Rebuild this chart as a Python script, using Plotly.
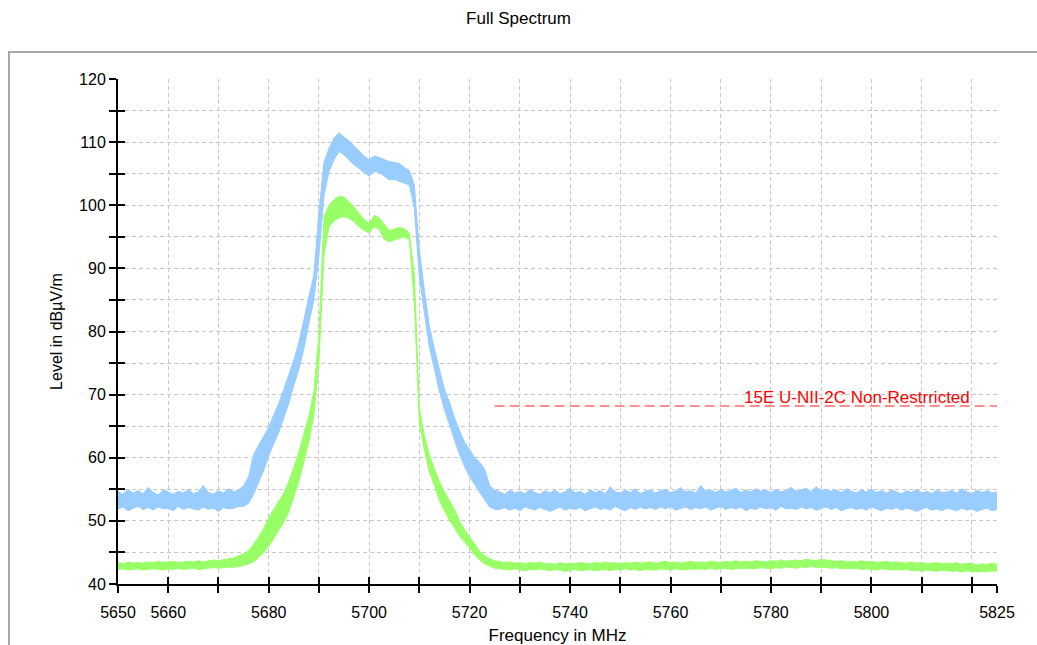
import plotly.graph_objects as go

# Frequency grid in MHz
freq = list(range(5650, 5826))

# Peak trace (light blue): upper / lower envelope of the sweep, dBµV/m
peak_hi = (
    [54.6, 54.2, 55.0, 54.4, 54.8, 54.3, 55.3, 54.5, 54.1, 54.9, 54.6, 54.2, 54.7,
     54.4, 55.0, 54.3, 54.6, 55.6, 54.5, 54.2, 54.8, 54.4, 55.1, 54.6, 54.9]
    + [55.6, 57.0, 60.5, 62.0, 63.5, 64.8, 66.8, 68.6, 70.8, 73.0, 75.5, 78.2, 82.0, 85.5, 89.0,
       99.0, 106.8, 109.0, 110.6, 111.5, 110.8, 110.2, 109.4, 108.6, 107.8, 107.2, 107.8, 107.6,
       107.3, 106.9, 106.8, 106.6, 106.0, 105.5, 103.2,
       93.0, 86.5, 80.8, 77.2, 74.0, 70.8, 68.8, 66.3, 64.3, 62.5, 61.3, 60.0, 59.3, 58.2, 55.6, 54.9]
    + [54.6, 54.2, 54.9, 54.4, 54.7, 54.3, 55.0, 54.5, 54.2, 54.8,
       54.4, 54.9, 54.3, 54.6, 55.2, 54.4, 54.7, 54.2, 54.9, 54.5,
       54.8, 54.3, 55.4, 54.6, 54.4, 54.9, 54.5, 55.1, 54.3, 54.7,
       54.9, 54.4, 54.8, 55.0, 54.5, 54.7, 55.3, 54.6, 54.8, 54.4,
       55.6, 54.7, 54.9, 54.5, 55.0, 54.6, 54.8, 55.2, 54.5, 54.9,
       54.6, 55.1, 54.7, 54.9, 54.5, 55.0, 54.6, 54.8, 55.3, 54.7,
       54.9, 55.2, 54.6, 55.4, 54.8, 55.0, 54.7, 54.9, 54.5, 55.1,
       54.7, 54.4, 54.9, 54.6, 55.0, 54.5, 54.8, 54.4, 54.9, 54.6,
       54.3, 54.8, 54.5, 55.0, 54.4, 54.7, 54.3, 54.9, 54.5, 54.6,
       54.8, 54.4, 55.1, 54.6, 54.3, 54.9, 54.5, 54.8, 54.4, 54.6]
)
peak_lo = (
    [51.9, 52.2, 51.6, 52.0, 52.3, 51.8, 52.1, 51.7, 52.2, 51.9, 52.0, 51.6, 52.3,
     51.8, 52.1, 51.9, 51.7, 52.2, 51.8, 52.0, 51.5, 52.1, 51.9, 52.0, 52.3]
    + [52.3, 52.8, 54.2, 56.0, 58.0, 60.3, 62.2, 64.0, 66.3, 68.6, 71.5, 74.0, 77.2, 81.3, 85.0,
       92.0, 101.5, 105.3, 107.2, 108.5, 108.0, 107.2, 106.4, 105.8, 105.2, 104.6, 105.4, 105.2,
       104.6, 104.0, 104.1, 103.8, 103.5, 103.2, 99.5,
       88.5, 83.0, 77.5, 74.0, 70.5, 67.6, 65.2, 62.8, 60.5, 58.6, 57.0, 55.8, 54.5, 53.3, 52.2, 51.8]
    + [51.8, 52.1, 51.7, 52.0, 51.6, 52.2, 51.9, 51.7, 52.1, 51.8,
       51.5, 51.9, 52.2, 51.7, 52.0, 51.8, 52.1, 51.6, 51.9, 52.2,
       51.8, 52.0, 51.7, 52.3, 51.9, 51.6, 52.1, 51.8, 52.2, 51.9,
       52.1, 51.8, 52.2, 51.9, 52.3, 51.7, 52.0, 52.2, 51.8, 52.1,
       51.9, 52.2, 51.7, 52.0, 52.3, 51.8, 52.1, 51.9, 52.2, 51.6,
       52.0, 51.8, 52.2, 51.9, 52.1, 51.7, 52.3, 51.9, 52.0, 51.8,
       52.2, 51.9, 52.1, 51.7, 52.0, 52.2, 51.8, 52.1, 51.6, 51.9,
       52.1, 51.8, 52.0, 51.7, 52.2, 51.9, 51.6, 52.0, 51.8, 52.1,
       51.7, 52.0, 51.8, 51.5, 51.9, 52.1, 51.7, 51.9, 51.6, 52.0,
       51.8, 51.6, 52.0, 51.7, 51.9, 51.5, 51.8, 52.0, 51.6, 51.8]
)

# Average trace (light green): upper / lower envelope, dBµV/m
avg_hi = (
    [43.4, 43.2, 43.5, 43.3, 43.4, 43.3, 43.5, 43.4, 43.6, 43.4, 43.5, 43.6, 43.4,
     43.5, 43.6, 43.5, 43.7, 43.5, 43.6, 43.8, 43.7, 43.9, 44.0, 44.1, 44.4]
    + [44.8, 45.3, 46.3, 47.5, 48.8, 50.5, 51.8, 53.0, 54.4, 56.2, 58.5, 60.8, 63.8, 66.6, 70.5,
       79.5, 98.2, 100.0, 100.9, 101.4, 101.3, 100.5, 99.8, 98.7, 97.8, 97.1, 98.4, 98.0,
       96.9, 96.0, 96.2, 96.5, 96.3, 95.6, 89.0,
       68.0, 63.5, 60.4, 58.2, 56.2, 54.6, 53.3, 51.8, 50.0, 48.6, 47.5, 46.3, 45.2, 44.5, 44.0, 43.7]
    + [43.6, 43.4, 43.5, 43.3, 43.4, 43.2, 43.4, 43.3, 43.5, 43.2,
       43.3, 43.1, 43.4, 43.2, 43.3, 43.2, 43.4, 43.3, 43.2, 43.4,
       43.3, 43.5, 43.3, 43.4, 43.2, 43.4, 43.3, 43.5, 43.3, 43.4,
       43.5, 43.3, 43.4, 43.6, 43.4, 43.5, 43.3, 43.4, 43.6, 43.4,
       43.5, 43.4, 43.6, 43.5, 43.4, 43.6, 43.5, 43.7, 43.5, 43.6,
       43.5, 43.7, 43.6, 43.5, 43.7, 43.6, 43.8, 43.6, 43.7, 43.8,
       43.7, 43.9, 43.8, 43.7, 43.9, 43.8, 43.7, 43.6, 43.7, 43.5,
       43.6, 43.5, 43.7, 43.5, 43.6, 43.4, 43.5, 43.6, 43.4, 43.5,
       43.4, 43.3, 43.5, 43.3, 43.4, 43.2, 43.3, 43.4, 43.2, 43.3,
       43.2, 43.4, 43.1, 43.3, 43.2, 43.0, 43.2, 43.1, 43.3, 43.1]
)
avg_lo = (
    [42.3, 42.4, 42.2, 42.3, 42.4, 42.2, 42.3, 42.4, 42.3, 42.2, 42.4, 42.3, 42.5,
     42.3, 42.4, 42.5, 42.3, 42.4, 42.5, 42.6, 42.5, 42.6, 42.7, 42.6, 42.8]
    + [42.9, 43.2, 43.5, 44.2, 45.0, 46.0, 47.2, 48.4, 49.8, 51.4, 53.8, 56.2, 59.5, 62.5, 66.8,
       75.0, 92.0, 96.6, 97.5, 98.0, 98.2, 97.9, 97.4, 96.6, 96.0, 95.6, 96.6, 96.2,
       94.6, 94.2, 94.5, 94.8, 95.0, 94.6, 84.5,
       65.5, 61.2, 57.8, 55.6, 53.2, 51.6, 50.1, 48.9, 47.6, 46.6, 45.7, 44.6, 43.8, 43.2, 42.8, 42.5]
    + [42.4, 42.3, 42.2, 42.4, 42.3, 42.1, 42.3, 42.2, 42.4, 42.2,
       42.1, 42.3, 42.2, 42.0, 42.2, 42.3, 42.1, 42.2, 42.3, 42.1,
       42.2, 42.3, 42.1, 42.3, 42.2, 42.4, 42.2, 42.3, 42.1, 42.3,
       42.3, 42.2, 42.4, 42.3, 42.2, 42.4, 42.3, 42.2, 42.4, 42.3,
       42.4, 42.3, 42.5, 42.3, 42.4, 42.5, 42.3, 42.4, 42.5, 42.4,
       42.5, 42.4, 42.6, 42.5, 42.4, 42.6, 42.5, 42.7, 42.6, 42.5,
       42.7, 42.6, 42.8, 42.6, 42.7, 42.6, 42.5, 42.6, 42.4, 42.5,
       42.4, 42.5, 42.3, 42.4, 42.3, 42.2, 42.4, 42.3, 42.2, 42.3,
       42.2, 42.3, 42.1, 42.2, 42.0, 42.2, 42.1, 42.0, 42.2, 42.1,
       42.0, 42.1, 41.9, 42.1, 42.0, 41.9, 42.0, 41.9, 42.1, 42.0]
)

# Limit line
limit_x = [5725, 5825]
limit_level = 68.2
limit_label = "15E U-NII-2C Non-Restrricted"

# Axis ticks
x_tickvals = [5650, 5660, 5670, 5680, 5690, 5700, 5710, 5720, 5730, 5740, 5750,
              5760, 5770, 5780, 5790, 5800, 5810, 5820, 5825]
x_ticktext = ["5650", "5660", "", "5680", "", "5700", "", "5720", "", "5740", "",
              "5760", "", "5780", "", "5800", "", "", "5825"]
y_tickvals = [40, 45, 50, 55, 60, 65, 70, 75, 80, 85, 90, 95, 100, 105, 110, 115, 120]
y_ticktext = ["40", "", "50", "", "60", "", "70", "", "80", "", "90", "", "100", "",
              "110", "", "120"]

FONT = "Arial, 'Liberation Sans', sans-serif"
BLUE = "#99ccff"
GREEN = "#99ff66"

fig = go.Figure()


def band(hi, lo, color, name):
    return go.Scatter(
        x=freq + freq[::-1],
        y=hi + lo[::-1],
        mode="lines",
        fill="toself",
        fillcolor=color,
        line=dict(color=color, width=1),
        name=name,
        showlegend=False,
        hoverinfo="skip",
    )


fig.add_trace(band(peak_hi, peak_lo, BLUE, "Peak"))
fig.add_trace(band(avg_hi, avg_lo, GREEN, "Average"))

fig.add_trace(go.Scatter(
    x=limit_x, y=[limit_level, limit_level], mode="lines",
    line=dict(color="#ff2020", width=1, dash="10px,5px"),
    showlegend=False, hoverinfo="skip",
))

# second pair of axes gives the inward half of the crossing tick marks
fig.add_trace(go.Scatter(x=[None], y=[None], xaxis="x2", yaxis="y2",
                         showlegend=False, hoverinfo="skip"))

fig.add_annotation(
    x=5820, y=limit_level, xref="x", yref="y",
    text=limit_label, showarrow=False,
    xanchor="right", yanchor="bottom", yshift=-3,
    font=dict(family=FONT, size=17, color="#ff0000"),
)

axis_common = dict(showline=True, linecolor="black", linewidth=2,
                   ticks="outside", ticklen=7, tickwidth=2, tickcolor="black",
                   zeroline=False, showgrid=True, gridcolor="#c8c8c8",
                   gridwidth=1, griddash="4px,3px", automargin=False,
                   tickfont=dict(family=FONT, size=16, color="black"))

fig.update_layout(
    width=1037, height=645,
    margin=dict(l=118, r=40, t=79, b=61),
    paper_bgcolor="white", plot_bgcolor="white",
    title=dict(text="Full Spectrum", x=0.5, xanchor="center",
               y=1 - 18 / 645, yanchor="middle",
               font=dict(family=FONT, size=17, color="black")),
    xaxis=dict(range=[5650, 5825], tickmode="array", tickvals=x_tickvals,
               ticktext=x_ticktext, ticklabelstandoff=6,
               title=dict(text="Frequency in MHz", standoff=12,
                          font=dict(family=FONT, size=17, color="black")),
               **axis_common),
    yaxis=dict(range=[40, 120], tickmode="array", tickvals=y_tickvals,
               ticktext=y_ticktext,
               title=dict(text="Level in dBµV/m", standoff=12,
                          font=dict(family=FONT, size=16, color="black")),
               **axis_common),
    xaxis2=dict(range=[5650, 5825], overlaying="x", anchor="y2", side="bottom",
                tickmode="array", tickvals=x_tickvals, showticklabels=False,
                ticks="inside", ticklen=7, tickwidth=2, tickcolor="black",
                showgrid=False, zeroline=False, showline=False),
    yaxis2=dict(range=[40, 120], overlaying="y", anchor="x2", side="left",
                tickmode="array", tickvals=y_tickvals, showticklabels=False,
                ticks="inside", ticklen=7, tickwidth=2, tickcolor="black",
                showgrid=False, zeroline=False, showline=False),
    shapes=[dict(type="rect", xref="paper", yref="paper",
                 x0=(9 - 118) / 879, x1=1.2, y0=-0.3, y1=(584 - 52) / 505,
                 line=dict(color="#a8a8a8", width=2), layer="below")],
    showlegend=False,
)

fig.write_html("out.html")
